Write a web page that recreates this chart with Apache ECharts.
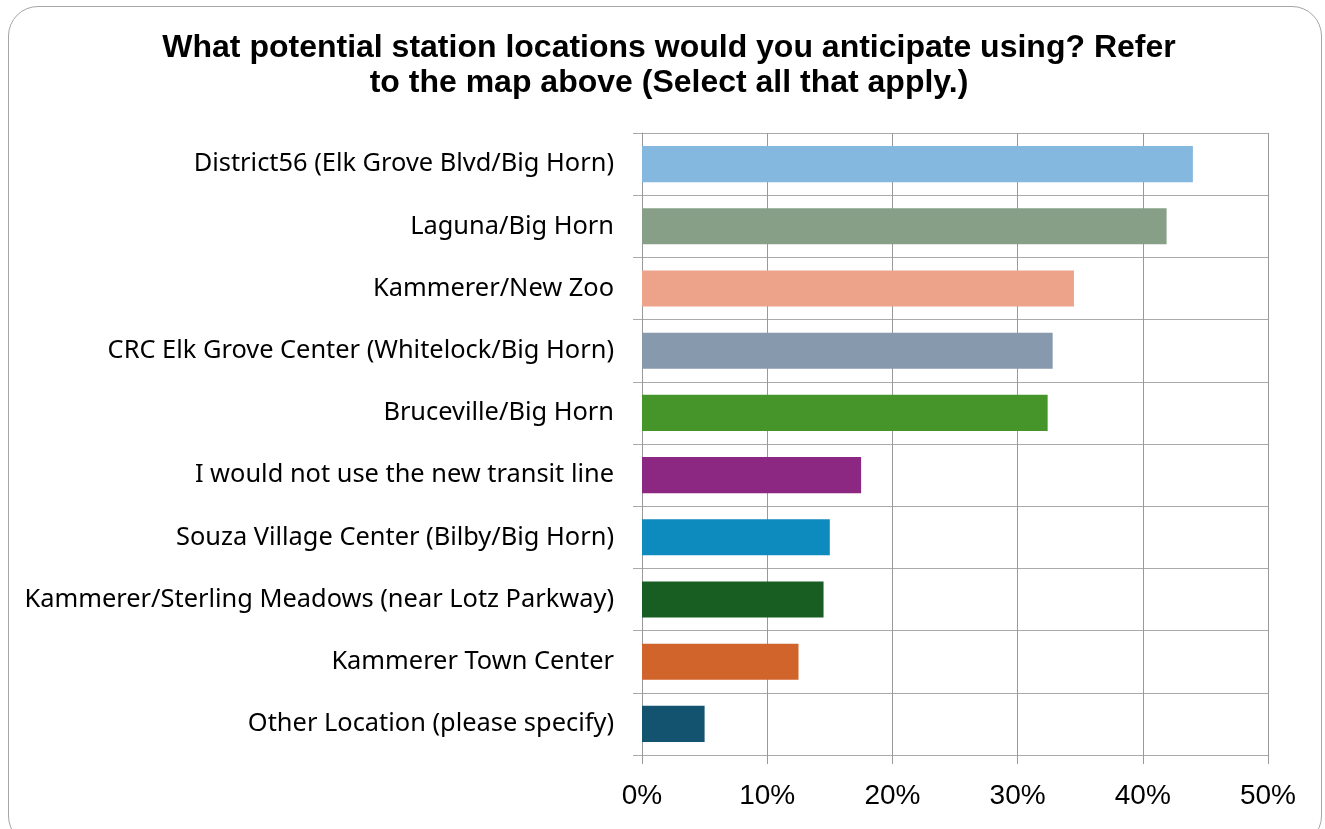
<!DOCTYPE html>
<html>
<head>
<meta charset="utf-8">
<script src="https://cdn.jsdelivr.net/npm/echarts@6/dist/echarts.min.js"></script>
<style>
  html, body { margin: 0; padding: 0; background: #ffffff; }
  #frame {
    position: absolute; left: 8px; top: 6px; width: 1314px; height: 840px;
    border: 1px solid #a6a6a6; border-radius: 30px; box-sizing: border-box;
  }
  #chart { position: absolute; left: 0; top: 0; width: 1325px; height: 829px; }
</style>
</head>
<body>
<div id="frame"></div>
<div id="chart"></div>
<script>
// Survey question: which proposed stations respondents expect to use
const titleText = 'What potential station locations would you anticipate using? Refer\nto the map above (Select all that apply.)';

const categories = [
  'District56 (Elk Grove Blvd/Big Horn)',
  'Laguna/Big Horn',
  'Kammerer/New Zoo',
  'CRC Elk Grove Center (Whitelock/Big Horn)',
  'Bruceville/Big Horn',
  'I would not use the new transit line',
  'Souza Village Center (Bilby/Big Horn)',
  'Kammerer/Sterling Meadows (near Lotz Parkway)',
  'Kammerer Town Center',
  'Other Location (please specify)'
];

// Share of respondents, percent
const shares = [44.0, 41.9, 34.5, 32.8, 32.4, 17.5, 15.0, 14.5, 12.5, 5.0];

const barColors = [
  '#85b8df', '#879f87', '#eda28a', '#8699ad', '#46952a',
  '#8c2882', '#0e8bbe', '#185e22', '#d0642b', '#13536f'
];

const axisTicks = [0, 10, 20, 30, 40, 50];

const chart = echarts.init(document.getElementById('chart'));
chart.setOption({
  animation: false,
  title: {
    text: titleText,
    left: 664,
    top: 26,
    textAlign: 'center',
    textStyle: {
      fontFamily: 'Liberation Sans, Arial, sans-serif',
      fontWeight: 'bold',
      fontSize: 32,
      lineHeight: 35,
      color: '#000000'
    }
  },
  grid: { left: 642, right: 57, top: 133, bottom: 74, containLabel: false },
  xAxis: {
    type: 'value',
    min: axisTicks[0],
    max: axisTicks[axisTicks.length - 1],
    interval: 10,
    axisLine: { show: false },
    axisTick: { show: true, length: 9, lineStyle: { color: '#999999', width: 1 } },
    splitLine: { show: true, lineStyle: { color: '#999999', width: 1 } },
    axisLabel: {
      margin: 27,
      formatter: v => v + '%',
      fontFamily: 'Liberation Sans, Arial, sans-serif',
      fontSize: 28,
      color: '#000000'
    }
  },
  yAxis: {
    type: 'category',
    inverse: true,
    data: categories,
    axisLine: { show: true, lineStyle: { color: '#999999', width: 1 } },
    axisTick: { show: true, length: 9, lineStyle: { color: '#aaaaaa', width: 1 } },
    splitLine: { show: true, lineStyle: { color: '#aaaaaa', width: 1 } },
    axisLabel: {
      margin: 28,
      fontFamily: 'Noto Sans, Open Sans, sans-serif',
      fontSize: 25.4,
      color: '#000000'
    }
  },
  series: [{
    type: 'bar',
    data: shares.map((v, i) => ({ value: v, itemStyle: { color: barColors[i] } })),
    barWidth: '58%'
  }]
});
</script>
</body>
</html>
